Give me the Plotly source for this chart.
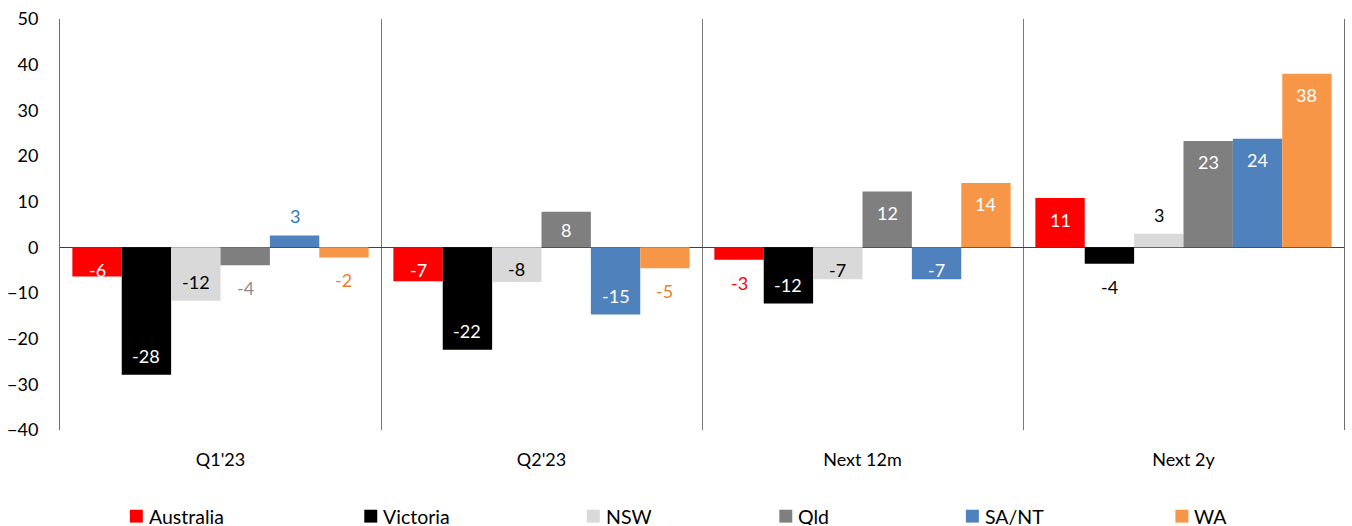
import plotly.graph_objects as go

# ---- data -------------------------------------------------------------
categories = ["Q1'23", "Q2'23", "Next 12m", "Next 2y"]
series_names = ["Australia", "Victoria", "NSW", "Qld", "SA/NT", "WA"]

australia = [-6.4, -7.4, -2.7, 10.8]
victoria = [-27.9, -22.4, -12.3, -3.6]
nsw = [-11.7, -7.6, -7.0, 3.0]
qld = [-3.9, 7.8, 12.2, 23.3]
sa_nt = [2.6, -14.7, -7.0, 23.8]
wa = [-2.2, -4.6, 14.1, 38.0]

y_ticks = [-40, -30, -20, -10, 0, 10, 20, 30, 40, 50]

# ---- styling ------------------------------------------------------------
bar_colors = ["#FF0000", "#000000", "#D9D9D9", "#7F7F7F", "#4F81BD", "#F79646"]
inside_text = ["#FFFFFF", "#FFFFFF", "#000000", "#FFFFFF", "#FFFFFF", "#FFFFFF"]
outside_text = ["#FF0000", "#000000", "#000000", "#8C8C8C", "#2878C8", "#ED7D31"]
FONT = "Lato, 'Source Sans Pro', 'Noto Sans', sans-serif"
FS = 18
LEGEND_FS = 19.5

W, H = 1352, 526
M_L, M_R, M_T, M_B = 58, 7, 15, 96
Y_MIN, Y_MAX = -40, 50
BARGAP = 0.077
plot_w = W - M_L - M_R
plot_h = H - M_T - M_B
px_per_unit = plot_h / (Y_MAX - Y_MIN)

all_series = [australia, victoria, nsw, qld, sa_nt, wa]

fig = go.Figure()
for name, vals, col in zip(series_names, all_series, bar_colors):
    fig.add_trace(go.Bar(
        name=name, x=categories, y=vals,
        marker=dict(color=col, line=dict(width=0)),
        showlegend=False,
    ))

# value labels, placed like spreadsheet "inside end" labels
annotations = []
n = len(all_series)
slot = (1 - BARGAP) / n
for j, vals in enumerate(all_series):
    for i, v in enumerate(vals):
        x = i - (1 - BARGAP) / 2 + (j + 0.5) * slot
        L = abs(v) * px_per_unit
        inside = abs(v) >= 5
        if inside:
            if v > 0:
                cfz = max(L - 21.5, 18)
                shift = cfz - L
            else:
                cfz = max(L - 18.5, 22.5)
                shift = L - cfz
            color = inside_text[j]
        else:
            shift = 19 if v > 0 else -23
            color = outside_text[j]
        annotations.append(dict(
            x=x, y=v, xref="x", yref="y", text=f"{round(v):.0f}",
            showarrow=False, xanchor="center", yanchor="middle", yshift=shift,
            font=dict(family=FONT, size=FS, color=color),
        ))

# legend row along the bottom
legend_px = [128, 363, 586, 779, 966, 1176]
legend_py = 517
sq = 13
shapes = []
for name, col, lx in zip(series_names, bar_colors, legend_px):
    x0 = (lx - M_L) / plot_w
    x1 = (lx + sq - M_L) / plot_w
    yc = (H - M_B - legend_py) / plot_h
    half = (sq / 2) / plot_h
    shapes.append(dict(type="rect", xref="paper", yref="paper",
                       x0=x0, x1=x1, y0=yc - half, y1=yc + half,
                       fillcolor=col, line=dict(width=0)))
    annotations.append(dict(
        x=(lx + sq + 5 - M_L) / plot_w, y=yc, xref="paper", yref="paper",
        text=name, showarrow=False, xanchor="left", yanchor="middle",
        height=18, borderpad=0, valign="middle",
        font=dict(family=FONT, size=LEGEND_FS, color="#000000"),
    ))

fig.update_layout(
    width=W, height=H,
    margin=dict(l=M_L, r=M_R, t=M_T, b=M_B, pad=0),
    paper_bgcolor="white", plot_bgcolor="white",
    barmode="group", bargap=BARGAP, bargroupgap=0,
    font=dict(family=FONT, size=FS, color="#000000"),
    annotations=annotations, shapes=shapes,
    xaxis=dict(
        type="category", range=[-0.5, 3.5],
        tickson="boundaries", ticks="",
        showgrid=True, gridcolor="#7A7A7A", gridwidth=1,
        showline=False, zeroline=False,
        ticklabelstandoff=17,
        tickfont=dict(family=FONT, size=FS, color="#000000"),
    ),
    yaxis=dict(
        range=[Y_MIN, Y_MAX], tickvals=y_ticks, ticks="",
        showgrid=False,
        showline=True, linecolor="#6E6E6E", linewidth=1, mirror=True,
        zeroline=True, zerolinecolor="#404040", zerolinewidth=1,
        ticklabelstandoff=17,
        tickfont=dict(family=FONT, size=FS, color="#000000"),
    ),
)

fig.write_html("out.html")
